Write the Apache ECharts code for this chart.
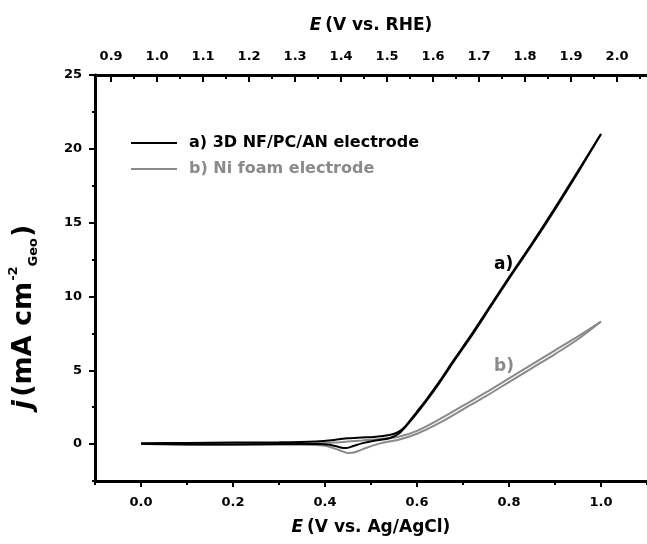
<!DOCTYPE html>
<html lang="en">
<head>
    <meta charset="UTF-8">
    <script src="https://cdn.jsdelivr.net/npm/echarts@6/dist/echarts.min.js"></script>
    <title>CV</title>
    <style>
        html, body { margin: 0; padding: 0; background: #fff; }
        #main { width: 647px; height: 544px; }
    </style>
</head>
<body>
<div id="main"></div>
<script>
    // a) 3D NF/PC/AN electrode, forward + reverse scan
    var aFwdE = [0.00, 0.10, 0.20, 0.30, 0.38, 0.42, 0.45, 0.48, 0.51, 0.54, 0.555, 0.57, 0.585, 0.60, 0.62, 0.65, 0.68, 0.72, 0.76, 0.80, 0.85, 0.90, 0.95, 1.00];
    var aFwdJ = [0.05, 0.08, 0.10, 0.12, 0.18, 0.28, 0.40, 0.45, 0.50, 0.62, 0.75, 1.05, 1.60, 2.20, 3.00, 4.30, 5.70, 7.50, 9.40, 11.3, 13.6, 16.0, 18.5, 21.0];
    var aRevE = [1.00, 0.95, 0.90, 0.85, 0.80, 0.76, 0.72, 0.68, 0.65, 0.62, 0.60, 0.58, 0.56, 0.54, 0.51, 0.48, 0.46, 0.445, 0.43, 0.41, 0.38, 0.30, 0.20, 0.10, 0.00];
    var aRevJ = [21.0, 18.4, 15.9, 13.5, 11.2, 9.30, 7.40, 5.60, 4.20, 2.90, 2.10, 1.35, 0.70, 0.40, 0.25, 0.05, -0.15, -0.27, -0.20, -0.05, 0.00, 0.00, -0.02, -0.02, 0.02];
    // b) Ni foam electrode
    var bFwdE = [0.00, 0.10, 0.20, 0.30, 0.38, 0.42, 0.45, 0.48, 0.52, 0.56, 0.60, 0.65, 0.70, 0.75, 0.80, 0.85, 0.90, 0.95, 1.00];
    var bFwdJ = [0.00, 0.00, 0.00, 0.02, 0.05, 0.10, 0.18, 0.25, 0.35, 0.50, 0.90, 1.70, 2.60, 3.50, 4.45, 5.40, 6.35, 7.30, 8.30];
    var bRevE = [1.00, 0.95, 0.90, 0.85, 0.80, 0.75, 0.70, 0.65, 0.60, 0.56, 0.52, 0.49, 0.465, 0.45, 0.43, 0.40, 0.35, 0.30, 0.20, 0.10, 0.00];
    var bRevJ = [8.30, 7.10, 6.10, 5.15, 4.20, 3.25, 2.35, 1.45, 0.70, 0.30, 0.05, -0.25, -0.55, -0.60, -0.40, -0.12, -0.05, -0.05, -0.05, -0.03, 0.00];

    var nameA = 'a) 3D NF/PC/AN electrode';
    var nameB = 'b) Ni foam electrode';
    var colorA = '#000000';
    var colorB = '#8a8a8a';

    var bottomMajor = [0.0, 0.2, 0.4, 0.6, 0.8, 1.0];
    var bottomMinor = [-0.1, 0.1, 0.3, 0.5, 0.7, 0.9, 1.1];
    var topMajor = [0.9, 1.0, 1.1, 1.2, 1.3, 1.4, 1.5, 1.6, 1.7, 1.8, 1.9, 2.0];
    var topMinor = [0.95, 1.05, 1.15, 1.25, 1.35, 1.45, 1.55, 1.65, 1.75, 1.85, 1.95, 2.05];
    var leftMajor = [0, 5, 10, 15, 20, 25];
    var leftMinor = [-2.5, 2.5, 7.5, 12.5, 17.5, 22.5];
    var rheOffset = 0.965;

    function pairs(xs, ys) {
        var out = [];
        for (var i = 0; i < xs.length; i++) {
            out.push([xs[i], ys[i]]);
        }
        return out;
    }

    var font = 'DejaVu Sans, Liberation Sans, Arial, sans-serif';
    var axisLine = { show: true, onZero: false, lineStyle: { color: '#000', width: 3 } };
    var noLine = { show: false, onZero: false };
    var tickStyle = { color: '#000', width: 2 };
    var tickFont = { color: '#000', fontSize: 13, fontWeight: 'bold', fontFamily: font };

    function lineSeries(name, color, xs, ys) {
        return {
            name: name,
            type: 'line',
            xAxisIndex: 0,
            yAxisIndex: 0,
            data: pairs(xs, ys),
            showSymbol: false,
            symbol: 'none',
            smooth: 0.3,
            lineStyle: { color: color, width: 2 },
            itemStyle: { color: color },
            silent: true
        };
    }

    function titleRich(size) {
        return {
            i: { fontSize: size, fontWeight: 'bold', fontStyle: 'italic', fontFamily: font, color: '#000' },
            b: { fontSize: size, fontWeight: 'bold', fontFamily: font, color: '#000' }
        };
    }

    var myChart = echarts.init(document.getElementById('main'));

    var option = {
        animation: false,
        textStyle: { fontFamily: font },
        grid: { left: 95, right: 0, top: 75, bottom: 63, containLabel: false, outerBoundsMode: 'none' },
        legend: {
            orient: 'vertical',
            left: 131,
            top: 133,
            padding: 0,
            icon: 'rect',
            itemWidth: 46,
            itemHeight: 2,
            itemGap: 6,
            textStyle: { fontSize: 16, fontWeight: 'bold', fontFamily: font, lineHeight: 20, padding: [0, 0, 0, 7] },
            data: [
                { name: nameA, textStyle: { color: colorA } },
                { name: nameB, textStyle: { color: colorB } }
            ]
        },
        xAxis: [
            {
                type: 'value', position: 'bottom', min: -0.1, max: 1.1,
                splitLine: { show: false },
                axisLine: axisLine,
                axisTick: { show: true, length: 6, inside: false, lineStyle: tickStyle, customValues: bottomMajor },
                axisLabel: Object.assign({
                    customValues: bottomMajor, margin: 15,
                    formatter: function (v) { return v.toFixed(1); }
                }, tickFont),
                name: '{i|E} {b|(V vs. Ag/AgCl)}',
                nameLocation: 'middle',
                nameGap: 38,
                nameMoveOverlap: false,
                nameTextStyle: { rich: titleRich(17) }
            },
            {
                type: 'value', position: 'top', min: -0.1 + rheOffset, max: 1.1 + rheOffset,
                splitLine: { show: false },
                axisLine: axisLine,
                axisTick: { show: true, length: 7, inside: true, lineStyle: tickStyle, customValues: topMajor },
                axisLabel: Object.assign({
                    customValues: topMajor, margin: 12,
                    formatter: function (v) { return v.toFixed(1); }
                }, tickFont),
                name: '{i|E} {b|(V vs. RHE)}',
                nameLocation: 'middle',
                nameGap: 41,
                nameMoveOverlap: false,
                nameTextStyle: { rich: titleRich(17) }
            },
            {
                type: 'value', position: 'top', min: -0.1 + rheOffset, max: 1.1 + rheOffset,
                splitLine: { show: false }, axisLine: noLine,
                axisTick: { show: true, length: 4, inside: true, lineStyle: tickStyle, customValues: topMinor },
                axisLabel: { show: false }
            },
            {
                type: 'value', position: 'bottom', min: -0.1, max: 1.1,
                splitLine: { show: false }, axisLine: noLine,
                axisTick: { show: true, length: 4, inside: false, lineStyle: tickStyle, customValues: bottomMinor },
                axisLabel: { show: false }
            }
        ],
        yAxis: [
            {
                type: 'value', position: 'left', min: -2.5, max: 25,
                splitLine: { show: false },
                axisLine: axisLine,
                axisTick: { show: true, length: 6, inside: false, lineStyle: tickStyle, customValues: leftMajor },
                axisLabel: Object.assign({ customValues: leftMajor, margin: 13 }, tickFont)
            },
            {
                type: 'value', position: 'left', min: -2.5, max: 25,
                splitLine: { show: false }, axisLine: noLine,
                axisTick: { show: true, length: 3, inside: false, lineStyle: tickStyle, customValues: leftMinor },
                axisLabel: { show: false }
            }
        ],
        series: [
            lineSeries(nameB, colorB, bFwdE, bFwdJ),
            lineSeries(nameB, colorB, bRevE, bRevJ),
            lineSeries(nameA, colorA, aFwdE, aFwdJ),
            lineSeries(nameA, colorA, aRevE, aRevJ)
        ],
        graphic: [
            { type: 'text', left: 494, top: 256, style: { text: 'a)', fill: colorA, font: 'bold 17px ' + font } },
            { type: 'text', left: 494, top: 358, style: { text: 'b)', fill: colorB, font: 'bold 17px ' + font } },
            {
                type: 'text',
                x: 24, y: 317,
                rotation: Math.PI / 2,
                style: {
                    text: '{i|j} {b|(mA cm}{sup|-2}{sub|Geo}{b|)}',
                    align: 'center',
                    verticalAlign: 'middle',
                    rich: {
                        i: { fontSize: 27, fontWeight: 'bold', fontStyle: 'italic', fontFamily: font, fill: '#000', lineHeight: 40, verticalAlign: 'middle' },
                        b: { fontSize: 27, fontWeight: 'bold', fontFamily: font, fill: '#000', lineHeight: 40, verticalAlign: 'middle' },
                        sup: { fontSize: 13, fontWeight: 'bold', fontFamily: font, fill: '#000', lineHeight: 40, verticalAlign: 'top', padding: [3, 0, 0, 1] },
                        sub: { fontSize: 13, fontWeight: 'bold', fontFamily: font, fill: '#000', lineHeight: 40, verticalAlign: 'bottom', padding: [0, 1, 4, 0] }
                    }
                }
            }
        ]
    };

    myChart.setOption(option);
</script>
</body>
</html>
